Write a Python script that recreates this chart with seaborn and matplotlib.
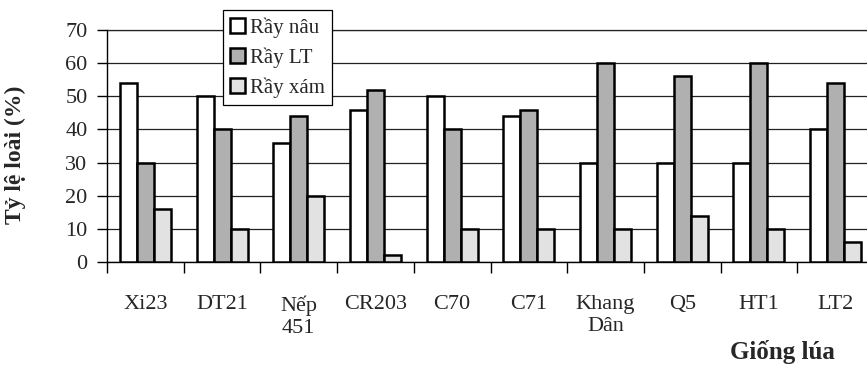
import matplotlib
matplotlib.use("Agg")
import matplotlib.pyplot as plt
import seaborn as sns
import pandas as pd

varieties = ["Xi23", "DT21", "Nếp\n451", "CR203", "C70", "C71",
             "Khang\nDân", "Q5", "HT1", "LT2"]
ray_nau = [54, 50, 36, 46, 50, 44, 30, 30, 30, 40]
ray_lt = [30, 40, 44, 52, 40, 46, 60, 56, 60, 54]
ray_xam = [16, 10, 20, 2, 10, 10, 10, 14, 10, 6]
series_names = ["Rầy nâu", "Rầy LT", "Rầy xám"]
y_ticks = [0, 10, 20, 30, 40, 50, 60, 70]

rows = []
for name, vals in zip(series_names, [ray_nau, ray_lt, ray_xam]):
    for v, val in zip(varieties, vals):
        rows.append({"Giống": v, "Loài": name, "Tỷ lệ": val})
df = pd.DataFrame(rows)

sns.set_theme(style="white")
plt.rcParams["font.family"] = ["Liberation Serif", "DejaVu Serif"]

fig = plt.figure(figsize=(8.67, 3.70), dpi=100)
ax = fig.add_axes([107 / 867, 1 - 262 / 370, 767 / 867, 232 / 370])

palette = {"Rầy nâu": "#ffffff", "Rầy LT": "#b0b0b0", "Rầy xám": "#e2e2e2"}
sns.barplot(data=df, x="Giống", y="Tỷ lệ", hue="Loài", order=varieties,
            hue_order=series_names, palette=palette, width=0.665,
            edgecolor="black", linewidth=1.8, saturation=1, ax=ax, zorder=3)

ax.set_xlim(-0.5, len(varieties) - 0.5)
ax.set_ylim(0, 70)
ax.set_yticks(y_ticks)
ax.yaxis.grid(True, color="#222222", linewidth=0.9, zorder=0)
ax.set_axisbelow(True)

for side in ["top", "right"]:
    ax.spines[side].set_visible(False)
for side in ["left", "bottom"]:
    ax.spines[side].set_color("black")
    ax.spines[side].set_linewidth(1.0)
ax.axhline(70, color="#222222", linewidth=0.9, zorder=0, clip_on=False)

ax.set_xticks(range(len(varieties)))
ax.set_xticklabels(varieties, fontsize=16, va="top", linespacing=1.2)
ax.tick_params(axis="x", which="major", length=0, pad=24)
ax.set_xticks([i - 0.5 for i in range(len(varieties) + 1)], minor=True)
ax.tick_params(axis="x", which="minor", length=8, width=1, color="black",
               direction="out", bottom=True)
ax.tick_params(axis="y", length=7, width=1, color="black", direction="out",
               left=True, labelsize=16, pad=7)

ax.set_xlabel("")
ax.set_ylabel("Tỷ lệ loài (%)", fontsize=17, fontweight="bold", labelpad=12)
ax.yaxis.set_label_coords(-0.105, 0.46)
fig.text(835 / 867, 1 - 352 / 370, "Giống lúa", fontsize=18,
         fontweight="bold", ha="right", va="center")

handles, labels = ax.get_legend_handles_labels()
leg = fig.legend(handles, labels, loc="upper left",
                 bbox_to_anchor=(223 / 867, 1 - 10 / 370),
                 borderaxespad=0, frameon=True, fancybox=False,
                 edgecolor="black", framealpha=1, fontsize=15,
                 handlelength=0.7, handleheight=0.7, handletextpad=0.25,
                 labelspacing=0.45, borderpad=0.35)
leg.get_frame().set_linewidth(0.9)
if ax.get_legend() is not None:
    ax.get_legend().remove()

fig.savefig("out.png", dpi=100)
